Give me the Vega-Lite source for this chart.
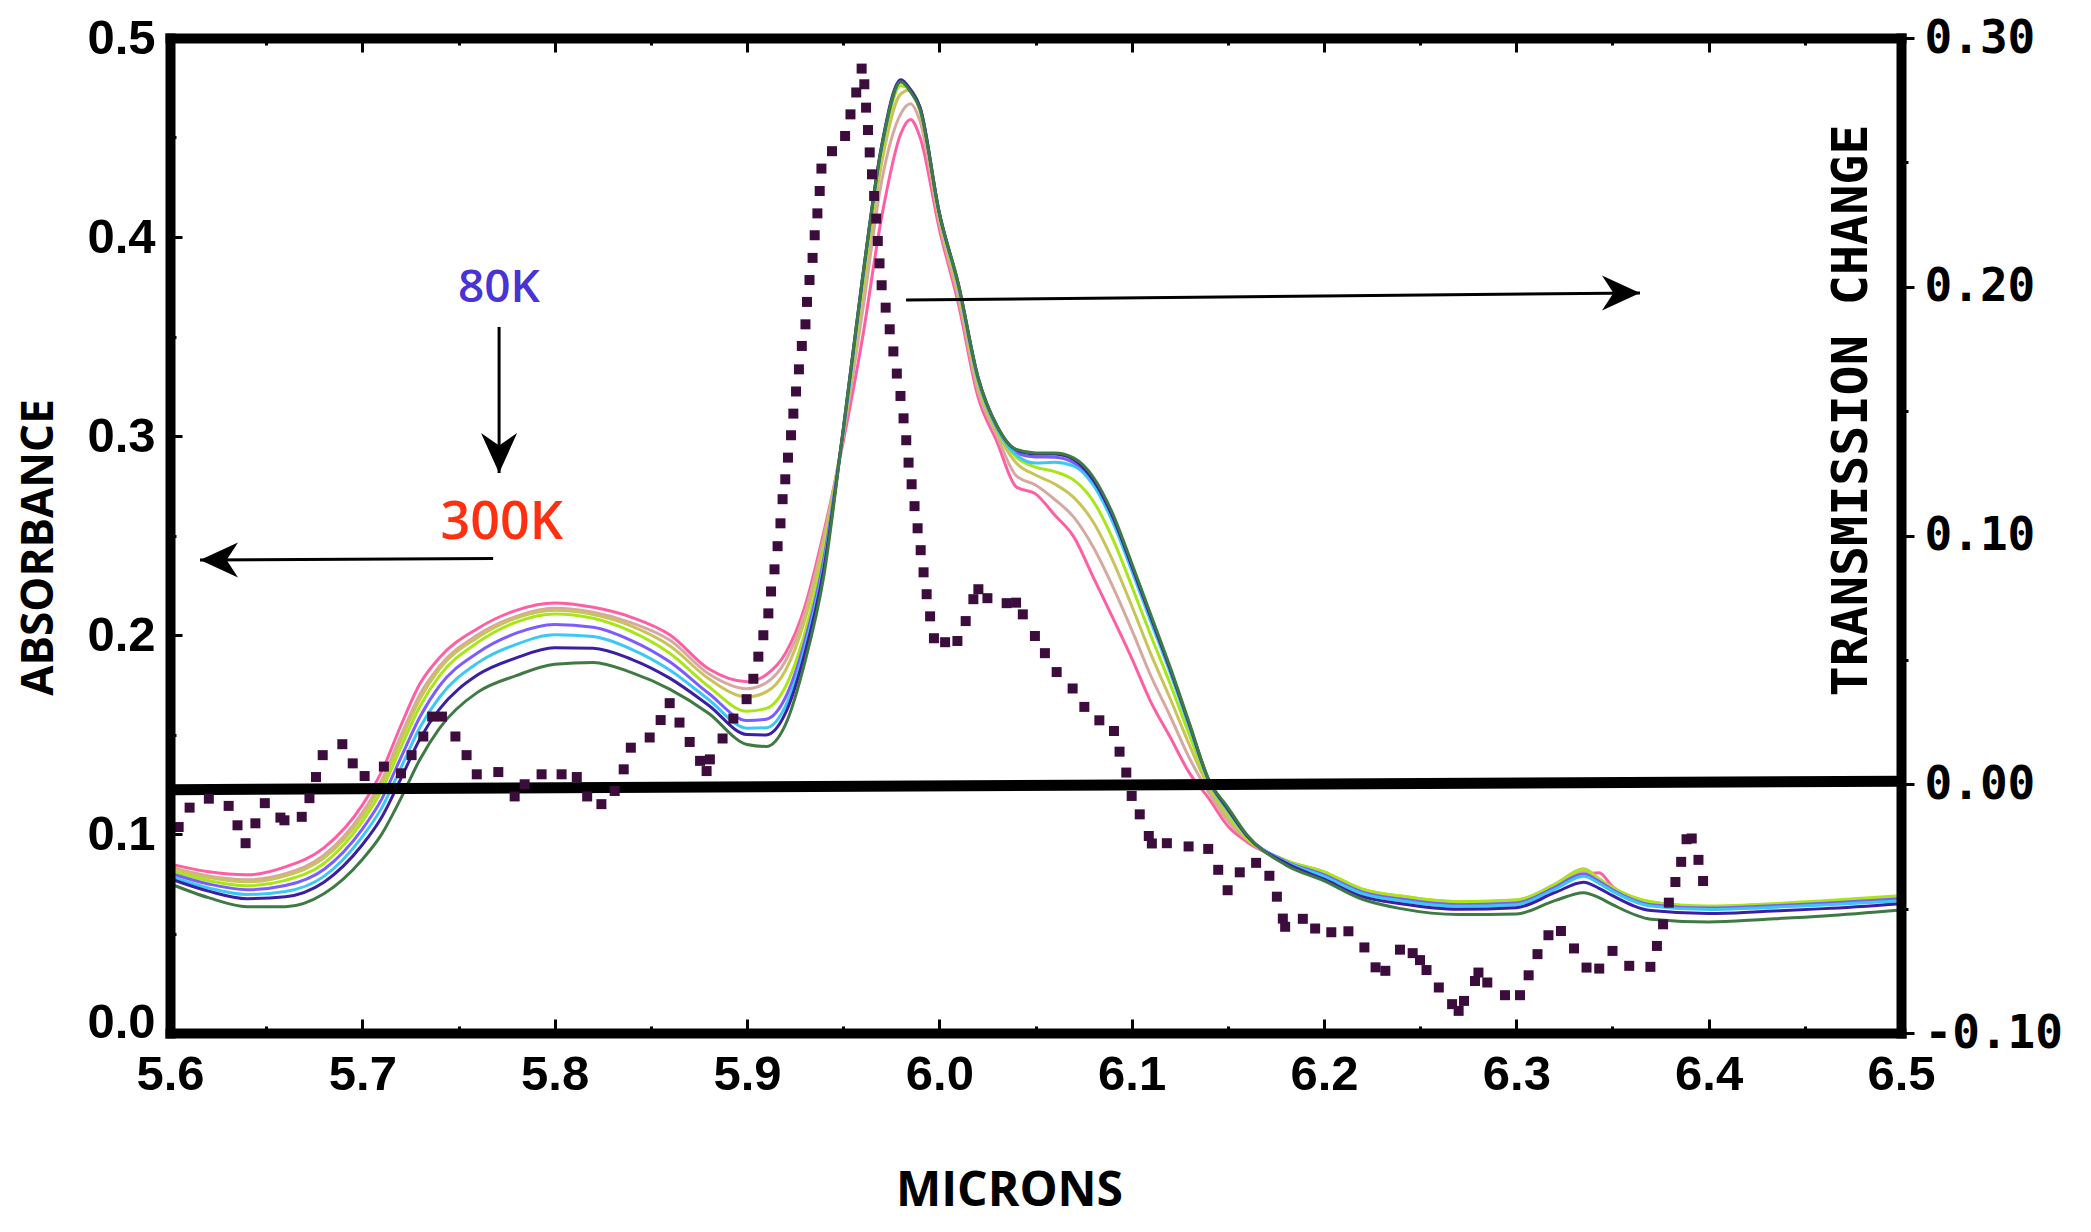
{
  "$schema": "https://vega.github.io/schema/vega-lite/v6.json",
  "width": 1731,
  "height": 995,
  "autosize": {"type": "none"},
  "padding": {"left": 170, "top": 38, "right": 190, "bottom": 199},
  "background": "white",
  "config": {
    "view": {"stroke": null},
    "axis": {"grid": false, "labelColor": "#000", "tickColor": "#000", "domainColor": "#000", "titleColor": "#000", "labelFlush": false, "labelOverlap": false}
  },
  "datasets": {
    "spectra": [
      {"x":5.60,"c1":0.085,"c2":0.0834,"c3":0.0828,"c4":0.0816,"c5":0.0803,"c6":0.0788,"c7":0.0775,"c8":0.075},
      {"x":5.62,"c1":0.081,"c2":0.0789,"c3":0.0781,"c4":0.0766,"c5":0.0749,"c6":0.0729,"c7":0.0713,"c8":0.068},
      {"x":5.64,"c1":0.0795,"c2":0.077,"c3":0.076,"c4":0.074,"c5":0.072,"c6":0.0696,"c7":0.0675,"c8":0.0635},
      {"x":5.66,"c1":0.0835,"c2":0.080,"c3":0.079,"c4":0.0767,"c5":0.0741,"c6":0.0711,"c7":0.0685,"c8":0.0635},
      {"x":5.68,"c1":0.093,"c2":0.0893,"c3":0.0879,"c4":0.0852,"c5":0.0822,"c6":0.0787,"c7":0.0758,"c8":0.070},
      {"x":5.70,"c1":0.1145,"c2":0.1107,"c3":0.109,"c4":0.1063,"c5":0.1025,"c6":0.0987,"c7":0.0946,"c8":0.0872},
      {"x":5.71,"c1":0.1313,"c2":0.1269,"c3":0.125,"c4":0.1219,"c5":0.1174,"c6":0.113,"c7":0.1083,"c8":0.0998},
      {"x":5.72,"c1":0.1544,"c2":0.1493,"c3":0.1471,"c4":0.1434,"c5":0.1383,"c6":0.1332,"c7":0.1277,"c8":0.1178},
      {"x":5.73,"c1":0.1756,"c2":0.1703,"c3":0.168,"c4":0.1642,"c5":0.1589,"c6":0.1536,"c7":0.1479,"c8":0.1376},
      {"x":5.74,"c1":0.1885,"c2":0.1842,"c3":0.1828,"c4":0.1793,"c5":0.1743,"c6":0.1686,"c7":0.1626,"c8":0.153},
      {"x":5.76,"c1":0.2033,"c2":0.2001,"c3":0.1988,"c4":0.1963,"c5":0.1911,"c6":0.186,"c7":0.180,"c8":0.1713},
      {"x":5.78,"c1":0.2124,"c2":0.2094,"c3":0.2085,"c4":0.2065,"c5":0.2009,"c6":0.1953,"c7":0.1885,"c8":0.1796},
      {"x":5.80,"c1":0.2161,"c2":0.2134,"c3":0.2124,"c4":0.2106,"c5":0.2053,"c6":0.2001,"c7":0.1936,"c8":0.1853},
      {"x":5.82,"c1":0.2139,"c2":0.2114,"c3":0.2103,"c4":0.2084,"c5":0.2039,"c6":0.1992,"c7":0.1934,"c8":0.1862},
      {"x":5.84,"c1":0.2089,"c2":0.2061,"c3":0.2045,"c4":0.2017,"c5":0.1972,"c6":0.1928,"c7":0.1878,"c8":0.1811},
      {"x":5.86,"c1":0.200,"c2":0.1973,"c3":0.1945,"c4":0.1907,"c5":0.1864,"c6":0.1823,"c7":0.1782,"c8":0.1727},
      {"x":5.88,"c1":0.183,"c2":0.1805,"c3":0.1781,"c4":0.1741,"c5":0.1707,"c6":0.1676,"c7":0.1647,"c8":0.1607},
      {"x":5.90,"c1":0.1765,"c2":0.173,"c3":0.1689,"c4":0.1617,"c5":0.157,"c6":0.1532,"c7":0.150,"c8":0.145},
      {"x":5.91,"c1":0.180,"c2":0.176,"c3":0.1714,"c4":0.1631,"c5":0.1577,"c6":0.1534,"c7":0.1498,"c8":0.144},
      {"x":5.92,"c1":0.1908,"c2":0.1869,"c3":0.1822,"c4":0.174,"c5":0.1686,"c6":0.1643,"c7":0.1607,"c8":0.155},
      {"x":5.93,"c1":0.214,"c2":0.2109,"c3":0.2073,"c4":0.2008,"c5":0.1966,"c6":0.1933,"c7":0.1905,"c8":0.186},
      {"x":5.94,"c1":0.252,"c2":0.2496,"c3":0.2467,"c4":0.2417,"c5":0.2384,"c6":0.2357,"c7":0.2335,"c8":0.230},
      {"x":5.95,"c1":0.297,"c2":0.300,"c3":0.301,"c4":0.302,"c5":0.302,"c6":0.302,"c7":0.303,"c8":0.303},
      {"x":5.96,"c1":0.349,"c2":0.362,"c3":0.370,"c4":0.376,"c5":0.378,"c6":0.378,"c7":0.379,"c8":0.379},
      {"x":5.97,"c1":0.410,"c2":0.428,"c3":0.437,"c4":0.443,"c5":0.445,"c6":0.445,"c7":0.446,"c8":0.4453},
      {"x":5.98,"c1":0.452,"c2":0.462,"c3":0.472,"c4":0.476,"c5":0.478,"c6":0.478,"c7":0.479,"c8":0.478},
      {"x":5.985,"c1":0.459,"c2":0.467,"c3":0.474,"c4":0.474,"c5":0.474,"c6":0.474,"c7":0.474,"c8":0.473},
      {"x":5.99,"c1":0.450,"c2":0.458,"c3":0.463,"c4":0.465,"c5":0.465,"c6":0.465,"c7":0.465,"c8":0.464},
      {"x":6.00,"c1":0.404,"c2":0.407,"c3":0.410,"c4":0.411,"c5":0.412,"c6":0.412,"c7":0.412,"c8":0.412},
      {"x":6.01,"c1":0.366,"c2":0.369,"c3":0.372,"c4":0.374,"c5":0.375,"c6":0.375,"c7":0.376,"c8":0.376},
      {"x":6.02,"c1":0.320,"c2":0.323,"c3":0.326,"c4":0.328,"c5":0.329,"c6":0.329,"c7":0.330,"c8":0.330},
      {"x":6.03,"c1":0.297,"c2":0.300,"c3":0.302,"c4":0.303,"c5":0.304,"c6":0.304,"c7":0.305,"c8":0.305},
      {"x":6.04,"c1":0.2744,"c2":0.280,"c3":0.2864,"c4":0.2894,"c5":0.2915,"c6":0.2905,"c7":0.293,"c8":0.2932},
      {"x":6.05,"c1":0.2709,"c2":0.2754,"c3":0.2804,"c4":0.2844,"c5":0.2895,"c6":0.2864,"c7":0.291,"c8":0.2915},
      {"x":6.06,"c1":0.2603,"c2":0.2681,"c3":0.2759,"c4":0.2821,"c5":0.2893,"c6":0.2868,"c7":0.2909,"c8":0.2915},
      {"x":6.07,"c1":0.2492,"c2":0.2591,"c3":0.269,"c4":0.2778,"c5":0.2865,"c6":0.2849,"c7":0.2881,"c8":0.2889},
      {"x":6.08,"c1":0.2291,"c2":0.2442,"c3":0.2568,"c4":0.2673,"c5":0.2764,"c6":0.2754,"c7":0.2779,"c8":0.2794},
      {"x":6.09,"c1":0.209,"c2":0.2247,"c3":0.2378,"c4":0.2487,"c5":0.2582,"c6":0.2571,"c7":0.2597,"c8":0.2613},
      {"x":6.10,"c1":0.1884,"c2":0.2027,"c3":0.2147,"c4":0.2247,"c5":0.2333,"c6":0.2324,"c7":0.2348,"c8":0.2362},
      {"x":6.11,"c1":0.1663,"c2":0.1794,"c3":0.1904,"c4":0.1996,"c5":0.2075,"c6":0.2066,"c7":0.2088,"c8":0.2101},
      {"x":6.12,"c1":0.1487,"c2":0.1593,"c3":0.1681,"c4":0.1755,"c5":0.1818,"c6":0.1811,"c7":0.1828,"c8":0.1839},
      {"x":6.13,"c1":0.1307,"c2":0.1382,"c3":0.1448,"c4":0.1498,"c5":0.1543,"c6":0.1538,"c7":0.155,"c8":0.1558},
      {"x":6.14,"c1":0.118,"c2":0.121,"c3":0.1235,"c4":0.1255,"c5":0.127,"c6":0.1268,"c7":0.1273,"c8":0.1275},
      {"x":6.15,"c1":0.104,"c2":0.1065,"c3":0.1085,"c4":0.1105,"c5":0.112,"c6":0.112,"c7":0.1125,"c8":0.1134},
      {"x":6.16,"c1":0.096,"c2":0.097,"c3":0.0975,"c4":0.098,"c5":0.099,"c6":0.099,"c7":0.099,"c8":0.0995},
      {"x":6.18,"c1":0.0866,"c2":0.0866,"c3":0.0868,"c4":0.0868,"c5":0.0863,"c6":0.086,"c7":0.0855,"c8":0.0845},
      {"x":6.20,"c1":0.0805,"c2":0.0805,"c3":0.081,"c4":0.081,"c5":0.0795,"c6":0.0787,"c7":0.0773,"c8":0.0765},
      {"x":6.22,"c1":0.0718,"c2":0.0718,"c3":0.0723,"c4":0.0723,"c5":0.0708,"c6":0.070,"c7":0.0685,"c8":0.0672},
      {"x":6.24,"c1":0.0683,"c2":0.0683,"c3":0.0688,"c4":0.0688,"c5":0.0673,"c6":0.0665,"c7":0.065,"c8":0.0625},
      {"x":6.27,"c1":0.0655,"c2":0.0655,"c3":0.066,"c4":0.066,"c5":0.0645,"c6":0.0637,"c7":0.0622,"c8":0.0595},
      {"x":6.30,"c1":0.0663,"c2":0.0663,"c3":0.0668,"c4":0.0668,"c5":0.0653,"c6":0.0645,"c7":0.063,"c8":0.0598},
      {"x":6.32,"c1":0.074,"c2":0.074,"c3":0.0748,"c4":0.0745,"c5":0.0732,"c6":0.0722,"c7":0.0705,"c8":0.0665},
      {"x":6.335,"c1":0.0795,"c2":0.0815,"c3":0.0825,"c4":0.082,"c5":0.080,"c6":0.0788,"c7":0.0758,"c8":0.0705},
      {"x":6.343,"c1":0.0805,"c2":0.077,"c3":0.0775,"c4":0.0772,"c5":0.0762,"c6":0.0752,"c7":0.0727,"c8":0.068},
      {"x":6.35,"c1":0.0735,"c2":0.0728,"c3":0.0732,"c4":0.073,"c5":0.072,"c6":0.0712,"c7":0.069,"c8":0.0645},
      {"x":6.37,"c1":0.0653,"c2":0.0653,"c3":0.0658,"c4":0.066,"c5":0.0645,"c6":0.0638,"c7":0.0615,"c8":0.0572},
      {"x":6.40,"c1":0.0632,"c2":0.0632,"c3":0.0635,"c4":0.0638,"c5":0.0628,"c6":0.062,"c7":0.060,"c8":0.0558},
      {"x":6.43,"c1":0.0642,"c2":0.0642,"c3":0.0645,"c4":0.0648,"c5":0.0638,"c6":0.063,"c7":0.0612,"c8":0.0572},
      {"x":6.46,"c1":0.0657,"c2":0.0657,"c3":0.066,"c4":0.0665,"c5":0.0652,"c6":0.0643,"c7":0.0625,"c8":0.0588},
      {"x":6.50,"c1":0.068,"c2":0.068,"c3":0.0683,"c4":0.069,"c5":0.0675,"c6":0.0665,"c7":0.065,"c8":0.0618}
    ],
    "transmission": [
      {"x":5.6045,"t":-0.0172},{"x":5.6102,"t":-0.0094},{"x":5.6202,"t":-0.0058},{"x":5.6305,"t":-0.0087},{"x":5.6351,"t":-0.0165},{"x":5.6393,"t":-0.0237},{"x":5.6444,"t":-0.0157},{"x":5.6493,"t":-0.0076},{"x":5.6574,"t":-0.0134},{"x":5.6595,"t":-0.0145},{"x":5.6685,"t":-0.0131},{"x":5.6725,"t":-0.0056},{"x":5.6759,"t":0.0029},{"x":5.6794,"t":0.0117},{"x":5.6896,"t":0.0161},{"x":5.695,"t":0.0084},{"x":5.7012,"t":0.0033},{"x":5.7112,"t":0.0071},{"x":5.7201,"t":0.0044},{"x":5.7256,"t":0.0117},{"x":5.7317,"t":0.0192},{"x":5.7363,"t":0.0272},{"x":5.7414,"t":0.0272},{"x":5.7484,"t":0.0192},{"x":5.7542,"t":0.0117},{"x":5.7595,"t":0.004},{"x":5.7707,"t":0.0049},{"x":5.7792,"t":-0.0049},{"x":5.7844,"t":0.0},{"x":5.7932,"t":0.004},{"x":5.8036,"t":0.004},{"x":5.8115,"t":0.0029},{"x":5.8169,"t":-0.0049},{"x":5.8243,"t":-0.008},{"x":5.8312,"t":-0.0027},{"x":5.8359,"t":0.006},{"x":5.8396,"t":0.0147},{"x":5.8494,"t":0.0188},{"x":5.8551,"t":0.0258},{"x":5.8598,"t":0.0326},{"x":5.8649,"t":0.0248},{"x":5.8702,"t":0.017},{"x":5.8756,"t":0.0094},{"x":5.879,"t":0.0053},{"x":5.8807,"t":0.01},{"x":5.8873,"t":0.0184},{"x":5.8929,"t":0.0264},{"x":5.8998,"t":0.0342},{"x":5.9033,"t":0.0424},{"x":5.9059,"t":0.0513},{"x":5.9085,"t":0.0599},{"x":5.9111,"t":0.0687},{"x":5.9125,"t":0.0775},{"x":5.9143,"t":0.0864},{"x":5.9159,"t":0.0957},{"x":5.9174,"t":0.1049},{"x":5.9185,"t":0.1146},{"x":5.9199,"t":0.1226},{"x":5.9213,"t":0.1313},{"x":5.9229,"t":0.1403},{"x":5.9241,"t":0.149},{"x":5.9255,"t":0.1579},{"x":5.927,"t":0.1668},{"x":5.9285,"t":0.1762},{"x":5.9304,"t":0.1849},{"x":5.9312,"t":0.1939},{"x":5.9325,"t":0.2027},{"x":5.9341,"t":0.2116},{"x":5.9352,"t":0.2207},{"x":5.9366,"t":0.2295},{"x":5.9378,"t":0.2385},{"x":5.9387,"t":0.2475},{"x":5.9442,"t":0.2545},{"x":5.951,"t":0.2606},{"x":5.9538,"t":0.2693},{"x":5.9568,"t":0.2781},{"x":5.9596,"t":0.2877},{"x":5.961,"t":0.2814},{"x":5.9619,"t":0.272},{"x":5.9629,"t":0.263},{"x":5.9638,"t":0.254},{"x":5.965,"t":0.2452},{"x":5.9661,"t":0.2365},{"x":5.9672,"t":0.2274},{"x":5.968,"t":0.2184},{"x":5.9689,"t":0.2094},{"x":5.97,"t":0.2006},{"x":5.9721,"t":0.1916},{"x":5.9742,"t":0.1829},{"x":5.9761,"t":0.174},{"x":5.9779,"t":0.1651},{"x":5.9798,"t":0.1561},{"x":5.9814,"t":0.1471},{"x":5.9828,"t":0.1383},{"x":5.984,"t":0.1293},{"x":5.9856,"t":0.1206},{"x":5.9871,"t":0.1118},{"x":5.9887,"t":0.1029},{"x":5.9903,"t":0.0941},{"x":5.9918,"t":0.0852},{"x":5.9934,"t":0.0764},{"x":5.9952,"t":0.0675},{"x":5.9972,"t":0.0587},{"x":6.003,"t":0.0571},{"x":6.0094,"t":0.0576},{"x":6.0137,"t":0.0656},{"x":6.0177,"t":0.0744},{"x":6.0203,"t":0.0784},{"x":6.025,"t":0.0748},{"x":6.035,"t":0.0728},{"x":6.0399,"t":0.073},{"x":6.0434,"t":0.0683},{"x":6.0497,"t":0.0596},{"x":6.0549,"t":0.0527},{"x":6.061,"t":0.0451},{"x":6.0693,"t":0.0385},{"x":6.0754,"t":0.0311},{"x":6.0832,"t":0.0257},{"x":6.0908,"t":0.0214},{"x":6.0937,"t":0.0131},{"x":6.0972,"t":0.0047},{"x":6.1,"t":-0.0047},{"x":6.1042,"t":-0.0121},{"x":6.1089,"t":-0.0208},{"x":6.1105,"t":-0.0238},{"x":6.1183,"t":-0.0237},{"x":6.1296,"t":-0.025},{"x":6.1398,"t":-0.026},{"x":6.145,"t":-0.0344},{"x":6.1499,"t":-0.0426},{"x":6.1562,"t":-0.0354},{"x":6.1647,"t":-0.0316},{"x":6.1716,"t":-0.0368},{"x":6.1755,"t":-0.0452},{"x":6.1786,"t":-0.054},{"x":6.1798,"t":-0.0573},{"x":6.189,"t":-0.0541},{"x":6.1954,"t":-0.058},{"x":6.2038,"t":-0.0595},{"x":6.2127,"t":-0.0591},{"x":6.221,"t":-0.0656},{"x":6.2268,"t":-0.0736},{"x":6.2319,"t":-0.075},{"x":6.2395,"t":-0.0665},{"x":6.2461,"t":-0.0679},{"x":6.2499,"t":-0.0707},{"x":6.2533,"t":-0.0747},{"x":6.2597,"t":-0.0817},{"x":6.2666,"t":-0.0884},{"x":6.27,"t":-0.0911},{"x":6.2728,"t":-0.0871},{"x":6.2785,"t":-0.0791},{"x":6.2803,"t":-0.0757},{"x":6.2849,"t":-0.0797},{"x":6.2941,"t":-0.0848},{"x":6.3019,"t":-0.0848},{"x":6.3064,"t":-0.0768},{"x":6.311,"t":-0.0683},{"x":6.3167,"t":-0.0607},{"x":6.3232,"t":-0.059},{"x":6.33,"t":-0.066},{"x":6.3365,"t":-0.0737},{"x":6.3431,"t":-0.0741},{"x":6.35,"t":-0.067},{"x":6.3587,"t":-0.073},{"x":6.3697,"t":-0.0734},{"x":6.3731,"t":-0.065},{"x":6.3763,"t":-0.0563},{"x":6.3793,"t":-0.0476},{"x":6.3827,"t":-0.0393},{"x":6.3857,"t":-0.0312},{"x":6.3885,"t":-0.0221},{"x":6.3912,"t":-0.0218},{"x":6.3947,"t":-0.0304},{"x":6.3971,"t":-0.0389}
    ],
    "baseline": [
      {"x": 5.6, "t": -0.0022},
      {"x": 6.5, "t": 0.0012}
    ],
    "arrows": [
      {"x": 5.7711, "y": 0.3548, "x2": 5.7711, "y2": 0.2814},
      {"x": 5.768, "y": 0.2385, "x2": 5.6156, "y2": 0.2377},
      {"x": 5.9827, "y": 0.3683, "x2": 6.3643, "y2": 0.3719}
    ],
    "heads": [
      {"x": 5.7711, "y": 0.2814, "dir": "down"},
      {"x": 5.6156, "y": 0.2377, "dir": "left"},
      {"x": 6.3643, "y": 0.3719, "dir": "right"}
    ]
  },
  "layer": [
    {
      "data": {"name": "spectra"},
      "transform": [{"fold": ["c1", "c2", "c3", "c4", "c5", "c6", "c7", "c8"], "as": ["curve", "a"]}],
      "mark": {"type": "line", "strokeWidth": 3, "interpolate": "monotone"},
      "encoding": {
        "x": {
          "field": "x", "type": "quantitative",
          "scale": {"domain": [5.6, 6.5], "nice": false, "zero": false},
          "axis": {
            "orient": "bottom", "values": [5.6, 5.7, 5.8, 5.9, 6.0, 6.1, 6.2, 6.3, 6.4, 6.5], "format": ".1f",
            "labelFont": "Liberation Sans", "labelFontWeight": "bold", "labelFontSize": 49, "labelPadding": 31,
            "tickSize": -14, "tickWidth": 3, "domainWidth": 10, "domainCap": "square",
            "title": "MICRONS", "titleFont": "Open Sans", "titleFontWeight": "bold", "titleFontSize": 48,
            "titleX": 839, "titleY": 158, "titleAlign": "center", "titleBaseline": "middle", "titleAngle": 0,
            "zindex": 1
          }
        },
        "y": {
          "field": "a", "type": "quantitative",
          "scale": {"domain": [0, 0.5], "nice": false, "zero": false},
          "axis": {
            "orient": "left", "values": [0.1, 0.2, 0.3, 0.4, 0.5], "format": ".1f",
            "labelFont": "Liberation Sans", "labelFontWeight": "bold", "labelFontSize": 49, "labelPadding": 27,
            "tickSize": -12, "tickWidth": 3, "domainWidth": 10, "domainCap": "square",
            "title": "ABSORBANCE", "titleFont": "Open Sans", "titleFontWeight": "bold", "titleFontSize": 44,
            "titleX": -131, "titleY": 509, "titleAlign": "center", "titleBaseline": "middle", "titleAngle": 270,
            "zindex": 1
          }
        },
        "color": {
          "field": "curve", "type": "nominal", "legend": null,
          "scale": {
            "domain": ["c1", "c2", "c3", "c4", "c5", "c6", "c7", "c8"],
            "range": ["#ff5fa2", "#d6a9a0", "#c9c35a", "#a8e619", "#7b5cff", "#3cc8f5", "#3a1fa6", "#3f7a45"]
          }
        }
      }
    },
    {
      "data": {"name": "baseline"},
      "mark": {"type": "line", "color": "#000", "strokeWidth": 11, "strokeCap": "butt"},
      "encoding": {
        "x": {
          "field": "x", "type": "quantitative",
          "scale": {"domain": [5.6, 6.5], "nice": false, "zero": false},
          "axis": {
            "orient": "top", "values": [5.6, 5.7, 5.8, 5.9, 6.0, 6.1, 6.2, 6.3, 6.4, 6.5],
            "labels": false, "tickSize": -14, "tickWidth": 3, "domainWidth": 10, "domainCap": "square",
            "title": null, "zindex": 1
          }
        },
        "y": {
          "field": "t", "type": "quantitative",
          "scale": {"domain": [-0.1, 0.3], "nice": false, "zero": false},
          "axis": {
            "orient": "right", "values": [-0.1, 0, 0.1, 0.2, 0.3],
            "labelExpr": "(datum.value < 0 ? '-' : '') + format(abs(datum.value), '.2f')",
            "labelFont": "DejaVu Sans Mono", "labelFontWeight": "bold", "labelFontSize": 46, "labelPadding": 10,
            "tickSize": 13, "tickWidth": 3, "domainWidth": 10, "domainCap": "square",
            "title": "TRANSMISSION CHANGE", "titleFont": "DejaVu Sans Mono", "titleFontWeight": "bold", "titleFontSize": 50,
            "titleX": -50, "titleY": 372, "titleAlign": "center", "titleBaseline": "middle", "titleAngle": 270,
            "zindex": 1
          }
        }
      }
    },
    {
      "data": {"name": "transmission"},
      "mark": {"type": "point", "shape": "square", "filled": true, "size": 100, "color": "#3b0c3c", "opacity": 1, "strokeWidth": 0},
      "encoding": {
        "x": {
          "field": "x", "type": "quantitative",
          "scale": {"domain": [5.6, 6.5], "nice": false, "zero": false},
          "axis": {
            "orient": "bottom", "values": [5.65, 5.75, 5.85, 5.95, 6.05, 6.15, 6.25, 6.35, 6.45],
            "labels": false, "domain": false, "tickSize": -7, "tickWidth": 3, "title": null, "zindex": 1
          }
        },
        "y": {
          "field": "t", "type": "quantitative",
          "scale": {"domain": [-0.1, 0.3], "nice": false, "zero": false},
          "axis": {
            "orient": "right", "values": [-0.05, 0.05, 0.15, 0.25],
            "labels": false, "domain": false, "tickSize": 7, "tickWidth": 3, "title": null, "zindex": 1
          }
        }
      }
    },
    {
      "data": {"name": "arrows"},
      "mark": {"type": "rule", "color": "#000", "strokeWidth": 3},
      "encoding": {
        "x": {
          "field": "x", "type": "quantitative",
          "scale": {"domain": [5.6, 6.5], "nice": false, "zero": false},
          "axis": {
            "orient": "top", "values": [5.65, 5.75, 5.85, 5.95, 6.05, 6.15, 6.25, 6.35, 6.45],
            "labels": false, "domain": false, "tickSize": -7, "tickWidth": 3, "title": null, "zindex": 1
          }
        },
        "y": {
          "field": "y", "type": "quantitative",
          "scale": {"domain": [0, 0.5], "nice": false, "zero": false},
          "axis": {
            "orient": "left", "values": [0, 0.05, 0.15, 0.25, 0.35, 0.45],
            "labels": false, "domain": false, "tickSize": -6, "tickWidth": 3, "title": null, "zindex": 1
          }
        },
        "x2": {"field": "x2"},
        "y2": {"field": "y2"}
      }
    },
    {
      "data": {"name": "heads"},
      "mark": {"type": "point", "filled": true, "size": 1444, "color": "#000", "opacity": 1, "strokeWidth": 0},
      "encoding": {
        "x": {"field": "x", "type": "quantitative", "scale": {"domain": [5.6, 6.5], "nice": false, "zero": false}, "axis": null},
        "y": {
          "field": "y", "type": "quantitative",
          "scale": {"domain": [0, 0.5], "nice": false, "zero": false},
          "axis": {
            "orient": "left", "values": [0], "format": ".1f",
            "labelFont": "Liberation Sans", "labelFontWeight": "bold", "labelFontSize": 49,
            "labelPadding": 15, "labelOffset": -11,
            "ticks": false, "domain": false, "title": null, "zindex": 1
          }
        },
        "shape": {
          "field": "dir", "type": "nominal", "legend": null,
          "scale": {
            "domain": ["right", "down", "left"],
            "range": ["M0,0L-2,-0.92L-1.4,0L-2,0.92Z", "M0,0L-0.95,-2.1L0,-1.45L0.95,-2.1Z", "M0,0L2,-0.92L1.4,0L2,0.92Z"]
          }
        }
      }
    },
    {
      "data": {"values": [{"x": 5.771, "y": 0.3744, "label": "80K"}]},
      "mark": {"type": "text", "font": "Open Sans", "fontWeight": 600, "fontSize": 46, "color": "#4a33d4", "align": "center", "baseline": "middle"},
      "encoding": {
        "x": {"field": "x", "type": "quantitative", "scale": {"domain": [5.6, 6.5], "nice": false, "zero": false}, "axis": null},
        "y": {"field": "y", "type": "quantitative", "scale": {"domain": [0, 0.5], "nice": false, "zero": false}, "axis": null},
        "text": {"field": "label"}
      }
    },
    {
      "data": {"values": [{"x": 5.7725, "y": 0.2563, "label": "300K"}]},
      "mark": {"type": "text", "font": "Open Sans", "fontWeight": 600, "fontSize": 52, "color": "#ff3010", "align": "center", "baseline": "middle"},
      "encoding": {
        "x": {"field": "x", "type": "quantitative", "scale": {"domain": [5.6, 6.5], "nice": false, "zero": false}, "axis": null},
        "y": {"field": "y", "type": "quantitative", "scale": {"domain": [0, 0.5], "nice": false, "zero": false}, "axis": null},
        "text": {"field": "label"}
      }
    }
  ],
  "resolve": {
    "scale": {"y": "independent"},
    "axis": {"x": "independent", "y": "independent"}
  }
}
